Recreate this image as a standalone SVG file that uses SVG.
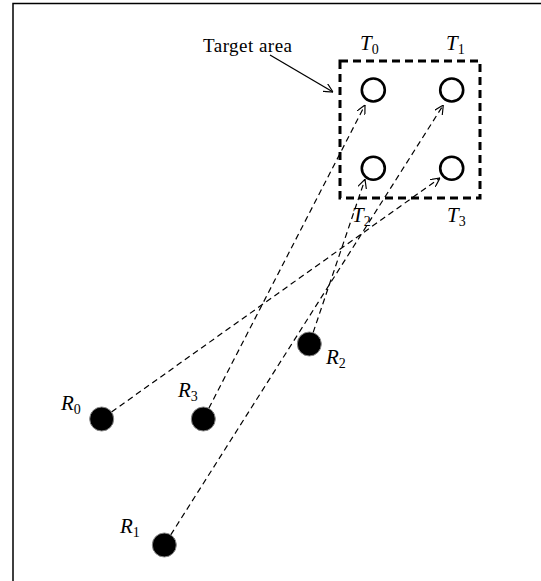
<svg xmlns="http://www.w3.org/2000/svg" width="541" height="581" viewBox="0 0 541 581">
<style>
.lbl{font-family:"Liberation Serif",serif;font-size:21px;font-style:italic;fill:#000}
.sub{font-size:14px;font-style:normal}
.tgt{fill:#fff;stroke:#000;stroke-width:2.6}
.rx{fill:#000;stroke:#888;stroke-width:1}
.conn{fill:none;stroke:#000;stroke-width:1.2;stroke-dasharray:6,4}
</style>
<defs>
<marker id="ah" viewBox="0 0 10 10" refX="10" refY="5" markerWidth="9" markerHeight="9" markerUnits="userSpaceOnUse" orient="auto">
<path d="M0,0 L10,5 L0,10" fill="none" stroke="#000" stroke-width="1.3"/>
</marker>
</defs>
<rect width="541" height="581" fill="#fff"/>
<path d="M13,581 V3.5 H541" fill="none" stroke="#000" stroke-width="1.5"/>
<g id="area">
<rect x="340" y="61" width="140" height="137" fill="none" stroke="#000" stroke-width="3" stroke-dasharray="8,5"/>
<text x="203" y="52" font-family="'Liberation Serif',serif" font-size="19" textLength="89">Target area</text>
<line x1="270" y1="55" x2="333" y2="92" stroke="#000" stroke-width="1.3" marker-end="url(#ah)"/>
</g>
<g id="connectors">
<line class="conn" x1="111.5" y1="412" x2="440" y2="178" marker-end="url(#ah)"/>
<line class="conn" x1="208.8" y1="408.3" x2="365" y2="105" marker-end="url(#ah)"/>
<line class="conn" x1="170.7" y1="534.9" x2="443.3" y2="105" marker-end="url(#ah)"/>
<line class="conn" x1="313.1" y1="332.6" x2="365" y2="179.3" marker-end="url(#ah)"/>
</g>
<g id="T0"><circle class="tgt" cx="373.3" cy="90" r="11.5"/><text class="lbl" x="360" y="50">T<tspan class="sub" dy="4">0</tspan></text></g>
<g id="T1"><circle class="tgt" cx="451.7" cy="90" r="11.5"/><text class="lbl" x="446" y="50">T<tspan class="sub" dy="4">1</tspan></text></g>
<g id="T2"><circle class="tgt" cx="373.3" cy="168.3" r="11.5"/><text class="lbl" x="352" y="222">T<tspan class="sub" dy="4">2</tspan></text></g>
<g id="T3"><circle class="tgt" cx="451.7" cy="168.3" r="11.5"/><text class="lbl" x="447" y="222">T<tspan class="sub" dy="4">3</tspan></text></g>
<g id="R0"><circle class="rx" cx="101.7" cy="419" r="12"/><text class="lbl" x="61" y="410">R<tspan class="sub" dy="4">0</tspan></text></g>
<g id="R3"><circle class="rx" cx="203.3" cy="419" r="12"/><text class="lbl" x="178" y="397">R<tspan class="sub" dy="4">3</tspan></text></g>
<g id="R1"><circle class="rx" cx="164.3" cy="545" r="12"/><text class="lbl" x="120" y="533">R<tspan class="sub" dy="4">1</tspan></text></g>
<g id="R2"><circle class="rx" cx="309.3" cy="344" r="12"/><text class="lbl" x="326" y="364">R<tspan class="sub" dy="4">2</tspan></text></g>
</svg>
